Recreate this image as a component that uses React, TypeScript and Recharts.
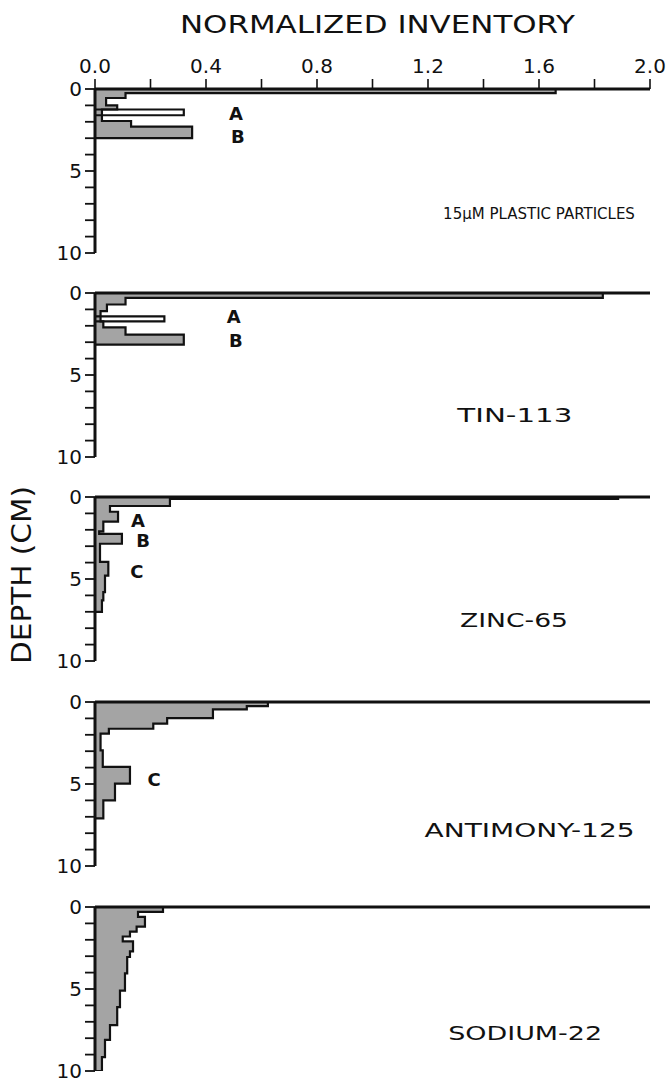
import React from 'react';
import { ComposedChart, Area, Line, XAxis, YAxis, ReferenceDot } from 'recharts';

// ---- axes ----
const inventoryTicks = [0, 0.2, 0.4, 0.6, 0.8, 1.0, 1.2, 1.4, 1.6, 1.8, 2.0];
const depthTicks = [0, 1, 2, 3, 4, 5, 6, 7, 8, 9, 10];

// ---- 15 µm plastic particles ----
const plasticTops = [0, 0.25, 0.55, 1.0, 1.25, 1.6, 1.95, 2.3];
const plasticValues = [1.66, 0.11, 0.04, 0.08, 0.025, 0.025, 0.13, 0.35];
const plasticBottom = 3.0;
const plasticHollow = { top: 1.25, bottom: 1.6, value: 0.32 };
const plasticMarks = ['A', 'B'];
const plasticMarkX = [0.508, 0.515];
const plasticMarkDepth = [1.5, 2.9];

// ---- Tin-113 ----
const tinTops = [0, 0.3, 0.7, 1.1, 1.42, 1.73, 2.1, 2.54];
const tinValues = [1.83, 0.11, 0.043, 0.02, 0.02, 0.03, 0.11, 0.32];
const tinBottom = 3.15;
const tinHollow = { top: 1.42, bottom: 1.73, value: 0.25 };
const tinMarks = ['A', 'B'];
const tinMarkX = [0.5, 0.508];
const tinMarkDepth = [1.43, 2.9];

// ---- Zinc-65 ----
const zincTops = [0, 0.12, 0.55, 0.9, 1.5, 2.1, 2.25, 2.85, 3.95, 4.8, 5.8, 6.3];
const zincValues = [1.885, 0.27, 0.054, 0.083, 0.03, 0.015, 0.097, 0.018, 0.048, 0.036, 0.03, 0.025];
const zincBottom = 7.0;
const zincMarks = ['A', 'B', 'C'];
const zincMarkX = [0.155, 0.173, 0.151];
const zincMarkDepth = [1.43, 2.65, 4.57];

// ---- Antimony-125 ----
const antimonyTops = [0, 0.25, 0.45, 0.98, 1.32, 1.63, 1.93, 2.95, 3.96, 4.98, 6.0];
const antimonyValues = [0.623, 0.547, 0.425, 0.26, 0.21, 0.05, 0.02, 0.028, 0.126, 0.072, 0.03];
const antimonyBottom = 7.1;
const antimonyMarks = ['C'];
const antimonyMarkX = [0.213];
const antimonyMarkDepth = [4.72];

// ---- Sodium-22 ----
const sodiumTops = [0, 0.3, 0.6, 1.2, 1.5, 1.8, 2.1, 2.7, 3.05, 4.05, 5.1, 6.1, 7.2, 8.1, 9.15];
const sodiumValues = [0.245, 0.155, 0.18, 0.15, 0.126, 0.1, 0.137, 0.126, 0.116, 0.108, 0.09, 0.08, 0.054, 0.036, 0.025];
const sodiumBottom = 10;
const sodiumMarks: string[] = [];
const sodiumMarkX: number[] = [];
const sodiumMarkDepth: number[] = [];

// ---- panel captions ----
const captionTexts = ['15\u03BCM PLASTIC PARTICLES', 'TIN-113', 'ZINC-65', 'ANTIMONY-125', 'SODIUM-22'];
const captionX = [1.6, 1.513, 1.51, 1.566, 1.55];
const captionDepth = [7.6, 7.44, 7.5, 7.77, 7.65];

// ---- layout (pixels) ----
const axisY = [89, 293, 497, 702, 907];
const captionLen = [0, 115, 108, 210, 154];
const captionSize = [15, 20, 20, 20, 20];

const FONT = "'DejaVu Sans', 'Liberation Sans', sans-serif";
const INK = '#111';

type Row = { depth: number; fill: number | null; hollow: number | null };

function buildRows(
  tops: number[],
  values: number[],
  bottom: number,
  hollow?: { top: number; bottom: number; value: number }
): Row[] {
  const rows: Row[] = tops.map((d, i) => ({ depth: d, fill: values[i], hollow: null }));
  rows.push({ depth: bottom, fill: 0, hollow: null });
  if (hollow) {
    rows.push({ depth: hollow.top, fill: null, hollow: 0 });
    rows.push({ depth: hollow.top, fill: null, hollow: hollow.value });
    rows.push({ depth: hollow.bottom, fill: null, hollow: 0 });
  }
  return rows;
}

const Caption = (props: any) => {
  const vb = props.viewBox || { x: 0, y: 0, width: 0, height: 0 };
  const cx = vb.x + (vb.width || 0) / 2;
  const cy = vb.y + (vb.height || 0) / 2;
  const extra = props.len ? { textLength: props.len, lengthAdjust: 'spacingAndGlyphs' } : {};
  return (
    <text
      x={cx}
      y={cy}
      dy="0.36em"
      textAnchor="middle"
      fontSize={props.size}
      fontFamily={FONT}
      fill={INK}
      {...extra}
    >
      {props.text}
    </text>
  );
};

const fmtInventory = (v: number) => {
  const k = Math.round(v * 10);
  return k % 4 === 0 ? (k / 10).toFixed(1) : '';
};
const fmtDepth = (v: number) => (v % 5 === 0 ? String(v) : '');

type PanelProps = {
  index: number;
  rows: Row[];
  hasHollow: boolean;
  marks: string[];
  markX: number[];
  markDepth: number[];
};

function Panel({ index, rows, hasHollow, marks, markX, markDepth }: PanelProps) {
  const showLabels = index === 0;
  return (
    <div style={{ position: 'absolute', left: 0, top: axisY[index] - 40 }}>
      <ComposedChart
        layout="vertical"
        width={667}
        height={224}
        data={rows}
        margin={{ top: 0, right: 17, bottom: 20, left: 0 }}
      >
        <XAxis
          type="number"
          orientation="top"
          domain={[0, 2]}
          ticks={inventoryTicks}
          interval={0}
          height={40}
          tickSize={10}
          tickMargin={6}
          allowDataOverflow
          axisLine={{ stroke: INK, strokeWidth: 3 }}
          tickLine={{ stroke: INK, strokeWidth: 1.6 }}
          tick={showLabels ? { fontSize: 20, fontFamily: FONT, fill: INK } : false}
          tickFormatter={fmtInventory}
        />
        <YAxis
          type="number"
          dataKey="depth"
          domain={[0, 10]}
          ticks={depthTicks}
          interval={0}
          width={95}
          tickSize={10}
          tickMargin={3}
          allowDataOverflow
          axisLine={{ stroke: INK, strokeWidth: 3 }}
          tickLine={{ stroke: INK, strokeWidth: 1.8 }}
          tick={{ fontSize: 20, fontFamily: FONT, fill: INK }}
          tickFormatter={fmtDepth}
        />
        <Area
          dataKey="fill"
          type="stepBefore"
          stroke={INK}
          strokeWidth={2.2}
          fill="#a4a4a4"
          fillOpacity={1}
          dot={false}
          activeDot={false}
          isAnimationActive={false}
        />
        {hasHollow && (
          <Line
            dataKey="hollow"
            type="stepBefore"
            stroke={INK}
            strokeWidth={2.2}
            dot={false}
            activeDot={false}
            isAnimationActive={false}
          />
        )}
        {marks.map((m, i) => (
          <ReferenceDot
            key={'m' + i}
            x={markX[i]}
            y={markDepth[i]}
            r={0}
            fill="none"
            stroke="none"
            label={{ value: m, position: 'center', fontSize: 18, fontWeight: 'bold', fontFamily: FONT, fill: INK }}
          />
        ))}
        <ReferenceDot
          x={captionX[index]}
          y={captionDepth[index]}
          r={0}
          fill="none"
          stroke="none"
          label={<Caption text={captionTexts[index]} len={captionLen[index]} size={captionSize[index]} />}
        />
      </ComposedChart>
    </div>
  );
}

const panels = [
  { rows: buildRows(plasticTops, plasticValues, plasticBottom, plasticHollow), hasHollow: true, marks: plasticMarks, markX: plasticMarkX, markDepth: plasticMarkDepth },
  { rows: buildRows(tinTops, tinValues, tinBottom, tinHollow), hasHollow: true, marks: tinMarks, markX: tinMarkX, markDepth: tinMarkDepth },
  { rows: buildRows(zincTops, zincValues, zincBottom), hasHollow: false, marks: zincMarks, markX: zincMarkX, markDepth: zincMarkDepth },
  { rows: buildRows(antimonyTops, antimonyValues, antimonyBottom), hasHollow: false, marks: antimonyMarks, markX: antimonyMarkX, markDepth: antimonyMarkDepth },
  { rows: buildRows(sodiumTops, sodiumValues, sodiumBottom), hasHollow: false, marks: sodiumMarks, markX: sodiumMarkX, markDepth: sodiumMarkDepth },
];

export default function App() {
  return (
    <div style={{ position: 'absolute', left: 0, top: 0, width: 667, height: 1082, background: '#fff', overflow: 'hidden' }}>
      {panels.map((p, i) => (
        <Panel key={i} index={i} {...p} />
      ))}
      <svg width={667} height={1082} style={{ position: 'absolute', left: 0, top: 0, pointerEvents: 'none' }}>
        <text x={180} y={33} fontSize={24} fontFamily={FONT} fill={INK} textLength={395} lengthAdjust="spacingAndGlyphs">
          NORMALIZED INVENTORY
        </text>
        <text
          transform="translate(31,575) rotate(-90)"
          textAnchor="middle"
          fontSize={26}
          fontFamily={FONT}
          fill={INK}
          textLength={178}
          lengthAdjust="spacingAndGlyphs"
        >
          DEPTH (CM)
        </text>
      </svg>
    </div>
  );
}
